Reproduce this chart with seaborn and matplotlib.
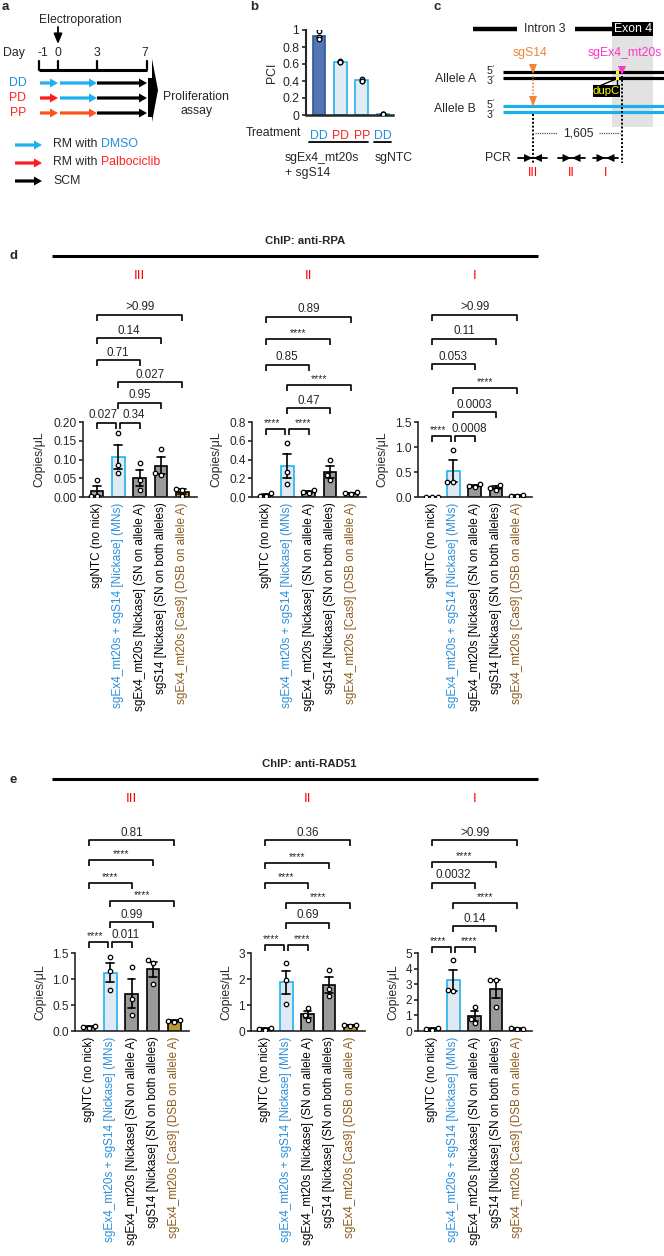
import numpy as np
import pandas as pd
import matplotlib
matplotlib.use("Agg")
import matplotlib.pyplot as plt
import seaborn as sns
from matplotlib.transforms import blended_transform_factory as btf
from matplotlib.patches import Rectangle, Polygon, FancyArrow

sns.set_style("ticks")
plt.rcParams['font.family'] = ['Liberation Sans', 'DejaVu Sans']
plt.rcParams['axes.linewidth'] = 1.2
plt.rcParams['xtick.major.width'] = 1.2
plt.rcParams['ytick.major.width'] = 1.2

# ---------------- data ----------------
conditions = ["sgNTC (no nick)",
              "sgEx4_mt20s + sgS14 [Nickase] (MNs)",
              "sgEx4_mt20s [Nickase] (SN on allele A)",
              "sgS14 [Nickase] (SN on both alleles)",
              "sgEx4_mt20s [Cas9] (DSB on allele A)"]
cond_label_colors = ["black", "#2a8fdc", "black", "black", "#8b5a1b"]
bar_fills = ["#a3a3a3", "#dce9f6", "#9a9a9a", "#9a9a9a", "#d4a020"]
bar_edges = ["black", "#1fb4ee", "black", "black", "black"]

# ChIP anti-RPA (copies/uL), three replicates per condition
rpa_III = [[0.045, 0.002, 0.002], [0.17, 0.085, 0.065], [0.09, 0.045, 0.018],
           [0.127, 0.065, 0.06], [0.022, 0.020, 0.002]]
rpa_II = [[0.04, 0.015, 0.01], [0.58, 0.27, 0.14], [0.07, 0.05, 0.04],
          [0.39, 0.23, 0.18], [0.05, 0.04, 0.035]]
rpa_I = [[0.01, 0.01, 0.01], [0.95, 0.30, 0.30], [0.26, 0.22, 0.20],
         [0.24, 0.18, 0.15], [0.04, 0.03, 0.02]]
# ChIP anti-RAD51
rad_III = [[0.10, 0.08, 0.06], [1.42, 1.16, 0.79], [1.24, 0.62, 0.30],
           [1.37, 1.30, 0.90], [0.22, 0.20, 0.17]]
rad_II = [[0.12, 0.08, 0.05], [2.60, 1.95, 1.05], [0.88, 0.62, 0.42],
          [2.35, 1.60, 1.33], [0.24, 0.22, 0.20]]
rad_I = [[0.20, 0.12, 0.08], [4.53, 2.65, 2.54], [1.55, 0.80, 0.50],
         [3.30, 3.25, 1.54], [0.18, 0.15, 0.12]]

# comparison pairs (top to bottom) and p-value labels
pairs = [(0, 4), (0, 3), (0, 2), (1, 4), (1, 3), (0, 1), (1, 2)]
rpa_III_p = [">0.99", "0.14", "0.71", "0.027", "0.95", "0.027", "0.34"]
rpa_II_p = ["0.89", "****", "0.85", "****", "0.47", "****", "****"]
rpa_I_p = [">0.99", "0.11", "0.053", "****", "0.0003", "****", "0.0008"]
rad_III_p = ["0.81", "****", "****", "****", "0.99", "****", "0.011"]
rad_II_p = ["0.36", "****", "****", "****", "0.69", "****", "****"]
rad_I_p = [">0.99", "****", "0.0032", "****", "0.14", "****", "****"]

rpa_III_ticks = [0, 0.05, 0.10, 0.15, 0.20]
rpa_II_ticks = [0, 0.2, 0.4, 0.6, 0.8]
rpa_I_ticks = [0, 0.5, 1.0, 1.5]
rad_III_ticks = [0, 0.5, 1.0, 1.5]
rad_II_ticks = [0, 1, 2, 3]
rad_I_ticks = [0, 1, 2, 3, 4, 5]

# panel b: PCI
pci_treat = ["DD", "PD", "PP", "DD"]
pci_treat_colors = ["#1f8fe0", "#ff2020", "#ff2020", "#1f8fe0"]
pci_points = [[0.99, 0.92, 0.89], [0.63, 0.625, 0.62], [0.42, 0.40, 0.40], [0.012, 0.01, 0.008]]
pci_fills = ["#4472c4", "#deebf7", "#deebf7", "#deebf7"]
pci_edges = ["#2f5597", "#1fb4ee", "#1fb4ee", "#1fb4ee"]
pci_ticks = [0, 0.2, 0.4, 0.6, 0.8, 1.0]

# panel a timeline
days = ["-1", "0", "3", "7"]
schedules = ["DD", "PD", "PP"]

# ---------------- figure ----------------
W, H = 664, 1256
fig = plt.figure(figsize=(W / 100, H / 100), dpi=100)
ov = fig.add_axes([0, 0, 1, 1], zorder=0)
ov.set_xlim(0, W)
ov.set_ylim(H, 0)
ov.axis('off')

FS = 8.8


def T(x, y, s, **kw):
    kw.setdefault('ha', 'center')
    kw.setdefault('va', 'center')
    kw.setdefault('fontsize', FS)
    return ov.text(x, y, s, **kw)


def px_axes(l, t, r, b):
    return fig.add_axes([l / W, 1 - b / H, (r - l) / W, (b - t) / H], zorder=2)


def harrow(x0, x1, y, c, width=3.2, hw=9, hl=8):
    ov.add_patch(FancyArrow(x0, y, x1 - x0, 0, width=width, head_width=hw, head_length=hl,
                            length_includes_head=True, color=c, lw=0))


BLUE_A = "#1eb0f0"
RED_A = "#ff1a1a"
ORANGE_A = "#ff5020"

# ---------- panel a ----------
T(2, 7, "a", fontweight='bold', ha='left', fontsize=9.5)
T(80, 20, "Electroporation")
ov.annotate("", xy=(58, 44), xytext=(58, 27),
            arrowprops=dict(arrowstyle='-|>,head_length=0.6,head_width=0.25', color='black', lw=1.3,
                            shrinkA=0, shrinkB=0, mutation_scale=10))
T(14, 53, "Day")
day_x = [43, 58, 97, 145]
for dx, dl in zip(day_x, days):
    T(dx, 53, dl)
tick_x = [39, 58, 97, 147]
ov.plot([39, 147], [70, 70], color='black', lw=2.2, solid_capstyle='butt')
for tx in tick_x:
    ov.plot([tx, tx], [61, 70], color='black', lw=1.6)
row_y = [83, 98, 113]
row_colors = [[BLUE_A, BLUE_A, 'black'], [RED_A, BLUE_A, 'black'], [ORANGE_A, ORANGE_A, 'black']]
label_colors = ["#1f8fe0", "#ff2020", "#ff2020"]
segs = [(40, 58), (60, 97), (97, 147)]
for yy, sch, cols, lc in zip(row_y, schedules, row_colors, label_colors):
    T(18, yy, sch, color=lc)
    for (x0, x1), c in zip(segs, cols):
        harrow(x0, x1, yy, c)
ov.add_patch(Polygon([(148, 78), (152, 78), (152, 59), (158, 90), (152, 122), (152, 117), (148, 117)],
                     closed=True, color='black', lw=0))
T(196, 97, "Proliferation")
T(197, 111, "assay")
leg = [(145, BLUE_A, "DMSO", "#1f8fe0"), (163, RED_A, "Palbociclib", "#ff2020"), (181, 'black', None, None)]
for yy, c, word, wc in leg:
    harrow(15, 42, yy, c)
    if word is None:
        T(53, yy, "SCM", ha='left')
    else:
        t1 = T(53, yy, "RM with ", ha='left', va='bottom')
        t1.set_y(yy + 5)
        ov.annotate(word, xy=(1, 0), xycoords=t1, ha='left', va='bottom', color=wc, fontsize=FS)

# ---------- panel b ----------
T(250, 7, "b", fontweight='bold', ha='left', fontsize=9.5)
axb = px_axes(306, 30, 393, 115)
keys_b = ["DD1", "PD", "PP", "DD2"]
dfb = pd.DataFrame([(keys_b[i], v) for i, pts in enumerate(pci_points) for v in pts], columns=['t', 'v'])
sns.barplot(dfb, x='t', y='v', hue='t', order=keys_b, hue_order=keys_b,
            palette=dict(zip(keys_b, pci_fills)), errorbar=None, width=0.6, linewidth=1.2,
            legend=False, ax=axb)
for p, ec in zip(axb.patches, pci_edges):
    p.set_edgecolor(ec)
sns.stripplot(dfb, x='t', y='v', order=keys_b, jitter=False, color='white', edgecolor='black',
              linewidth=0.9, size=3.3, ax=axb, zorder=5)
axb.set_xlim(-0.61, 3.47)
axb.set_ylim(0, 1.0)
axb.set_yticks(pci_ticks)
axb.set_yticklabels(["0", "0.2", "0.4", "0.6", "0.8", "1"], fontsize=FS)
axb.set_xticks(range(4))
axb.set_xticklabels(pci_treat, fontsize=FS)
for tl, c in zip(axb.get_xticklabels(), pci_treat_colors):
    tl.set_color(c)
axb.tick_params(axis='x', length=0, pad=11)
axb.tick_params(axis='y', length=3, pad=2)
axb.set_xlabel("")
axb.set_ylabel("PCI", fontsize=FS, labelpad=3)
axb.spines['left'].set_linewidth(1.5)
axb.spines['bottom'].set_linewidth(1.8)
sns.despine(ax=axb)
T(273, 133, "Treatment")
ov.plot([309, 368], [142, 142], color='black', lw=1.3)
ov.plot([374, 391], [142, 142], color='black', lw=1.3)
T(285, 158, "sgEx4_mt20s", ha='left')
T(285, 173, "+ sgS14", ha='left')
T(375, 158, "sgNTC", ha='left')

# ---------- panel c ----------
T(433, 7, "c", fontweight='bold', ha='left', fontsize=9.5)
ov.add_patch(Rectangle((612, 23), 41, 104, color='#e2e2e2', lw=0, zorder=0))
ov.plot([473, 517], [29, 29], color='black', lw=3.2, solid_capstyle='butt')
T(545, 29, "Intron 3")
ov.plot([575, 612], [29, 29], color='black', lw=3.2, solid_capstyle='butt')
ov.add_patch(Rectangle((612, 22), 41, 14, color='black', lw=0, zorder=2))
T(632.5, 29.5, "Exon 4", color='white', zorder=3)
for yy in (72, 78):
    ov.plot([503, 664], [yy, yy], color='black', lw=2.3, solid_capstyle='butt')
for yy in (106, 112):
    ov.plot([503, 664], [yy, yy], color='#1ab0ec', lw=2.3, solid_capstyle='butt')
T(476, 79, "Allele A", ha='right')
T(476, 109, "Allele B", ha='right')
for yy, s in ((70.5, "5´"), (81, "3´"), (104.5, "5´"), (115, "3´")):
    T(491, yy, s, fontsize=7.6)
ORG = "#f0843a"
MAG = "#ff33cc"
T(530, 53, "sgS14", color=ORG)
ov.add_patch(Polygon([(529, 64), (537, 64), (533, 74)], closed=True, color=ORG, lw=0, zorder=4))
ov.plot([533, 533], [76, 96], color=ORG, lw=1.2, ls=(0, (1, 1)))
ov.add_patch(Polygon([(529, 96), (537, 96), (533, 107)], closed=True, color=ORG, lw=0, zorder=4))
T(625, 53, "sgEx4_mt20s", color=MAG)
ov.add_patch(Polygon([(618, 66), (626, 66), (622, 75)], closed=True, color=MAG, lw=0, zorder=4))
ov.add_patch(Rectangle((615.5, 70.5), 3, 3, color='#ffff00', lw=0, zorder=5))
ov.add_patch(Rectangle((615.5, 76.5), 3, 3, color='#ffff00', lw=0, zorder=5))
ov.plot([597, 616], [87, 79], color='black', lw=1.0)
ov.plot([617, 617], [80, 86], color='black', lw=1.0)
ov.add_patch(Rectangle((593, 85), 27, 12, color='black', lw=0, zorder=4))
T(606.5, 91, "dupC", color='#ffff00', fontsize=8.2, zorder=5)
ov.plot([533, 533], [114, 163], color='black', lw=1.4, ls=(0, (1, 1)))
ov.plot([622, 622], [76, 163], color='black', lw=1.4, ls=(0, (1, 1)))
ov.plot([535, 557], [133, 133], color='#555555', lw=0.9, ls=(0, (1, 0.8)))
ov.plot([599, 620], [133, 133], color='#555555', lw=0.9, ls=(0, (1, 0.8)))
T(578, 133, "1,605")
T(498, 158, "PCR")
for (x0, x1, c), lab in zip([(518, 547, 533), (558, 585, 571.5), (593, 618, 605.5)], ["III", "II", "I"]):
    ov.plot([x0, x1], [158, 158], color='black', lw=1.3)
    ov.add_patch(Polygon([(c - 9, 154), (c - 0.5, 158), (c - 9, 162)], closed=True, color='black', lw=0))
    ov.add_patch(Polygon([(c + 9, 154), (c + 0.5, 158), (c + 9, 162)], closed=True, color='black', lw=0))
    T(c, 173, lab, color='red', fontsize=9)

# ---------- panels d / e ----------
SP = 21.3
XL, XR = -0.65, 4.7


def bar_group(bar0, top, bottom, points, ticks, tick_fmt, levels, plabels, numeral, lpad):
    left = bar0 + XL * SP
    right = bar0 + XR * SP
    ax = px_axes(left, top, right, bottom)
    df = pd.DataFrame([(conditions[i], v) for i, pts in enumerate(points) for v in pts],
                      columns=['cond', 'val'])
    sns.barplot(df, x='cond', y='val', hue='cond', order=conditions, hue_order=conditions,
                palette=dict(zip(conditions, bar_fills)), errorbar='se', capsize=0.36,
                err_kws={'color': 'black', 'linewidth': 1.2}, width=0.6, linewidth=1.2,
                edgecolor='black', legend=False, ax=ax)
    for p, ec in zip(ax.patches, bar_edges):
        p.set_edgecolor(ec)
    sns.swarmplot(df, x='cond', y='val', order=conditions, color='white', edgecolor='black',
                  linewidth=0.9, size=3.2, ax=ax, zorder=5)
    ax.set_autoscale_on(False)
    ax.set_xlim(XL, XR)
    ax.set_ylim(0, ticks[-1])
    ax.set_yticks(ticks)
    ax.set_yticklabels([tick_fmt.format(t) for t in ticks], fontsize=8.6)
    ax.set_xticks(range(5))
    ax.set_xticklabels(conditions, rotation=90, fontsize=8.5, ha='center', va='top')
    for tl, c in zip(ax.get_xticklabels(), cond_label_colors):
        tl.set_color(c)
    ax.tick_params(axis='x', length=0, pad=4)
    ax.tick_params(axis='y', length=3, pad=1.5)
    ax.set_xlabel("")
    ax.set_ylabel("Copies/μL", fontsize=8.8, labelpad=lpad)
    sns.despine(ax=ax)
    tr = btf(ax.transData, ov.transData)
    lv = list(levels) + [levels[-1]]
    for k, ((i, j), lab) in enumerate(zip(pairs, plabels)):
        y = lv[k]
        a, b = float(i), float(j)
        shift = 0.0
        if k == 5:
            b -= 0.1
            shift = -0.15
        if k == 6:
            a += 0.1
            shift = 0.18
        ax.plot([a, a, b, b], [y + 6, y, y, y + 6], transform=tr, color='black', lw=1.2,
                clip_on=False, solid_capstyle='butt')
        if lab == '****':
            ax.text((a + b) / 2 + shift, y - 0.5, lab, transform=tr, ha='center', va='bottom',
                    fontsize=7.5, clip_on=False)
        else:
            ax.text((a + b) / 2 + shift, y - 1.5, lab, transform=tr, ha='center', va='bottom',
                    fontsize=8.4, clip_on=False)
    ax.text(2, (top - 146) if top < 600 else (top - 154), numeral, transform=tr, ha='center',
            va='center', color='red', fontsize=9.5, clip_on=False)
    return ax


# panel d header
T(13, 256, "d", fontweight='bold', fontsize=9.5)
T(305, 241, "ChIP: anti-RPA", fontweight='bold', fontsize=8.2)
ov.plot([52, 538], [256, 256], color='black', lw=2.2, solid_capstyle='butt')

bar_group(97, 422, 497, rpa_III, rpa_III_ticks, "{:.2f}", [315, 338, 360, 382, 403, 423], rpa_III_p, "III", 6)
bar_group(266, 422, 497, rpa_II, rpa_II_ticks, "{:.1f}", [317, 339, 365, 385, 408, 429], rpa_II_p, "II", 5)
bar_group(432, 422, 497, rpa_I, rpa_I_ticks, "{:.1f}", [315, 339, 364, 388, 412, 436], rpa_I_p, "I", 5)

# panel e header
T(13, 780, "e", fontweight='bold', fontsize=9.5)
T(309, 764, "ChIP: anti-RAD51", fontweight='bold', fontsize=8.2)
ov.plot([52, 538], [779, 779], color='black', lw=2.2, solid_capstyle='butt')

bar_group(89, 953, 1031, rad_III, rad_III_ticks, "{:.1f}", [840, 860, 883, 901, 922, 942], rad_III_p, "III", 4)
bar_group(265, 953, 1031, rad_II, rad_II_ticks, "{:.0f}", [840, 863, 883, 903, 923, 945], rad_II_p, "II", 4)
bar_group(432, 953, 1031, rad_I, rad_I_ticks, "{:.0f}", [840, 862, 883, 903, 926, 947], rad_I_p, "I", 4)

fig.savefig("out.png", dpi=100)
